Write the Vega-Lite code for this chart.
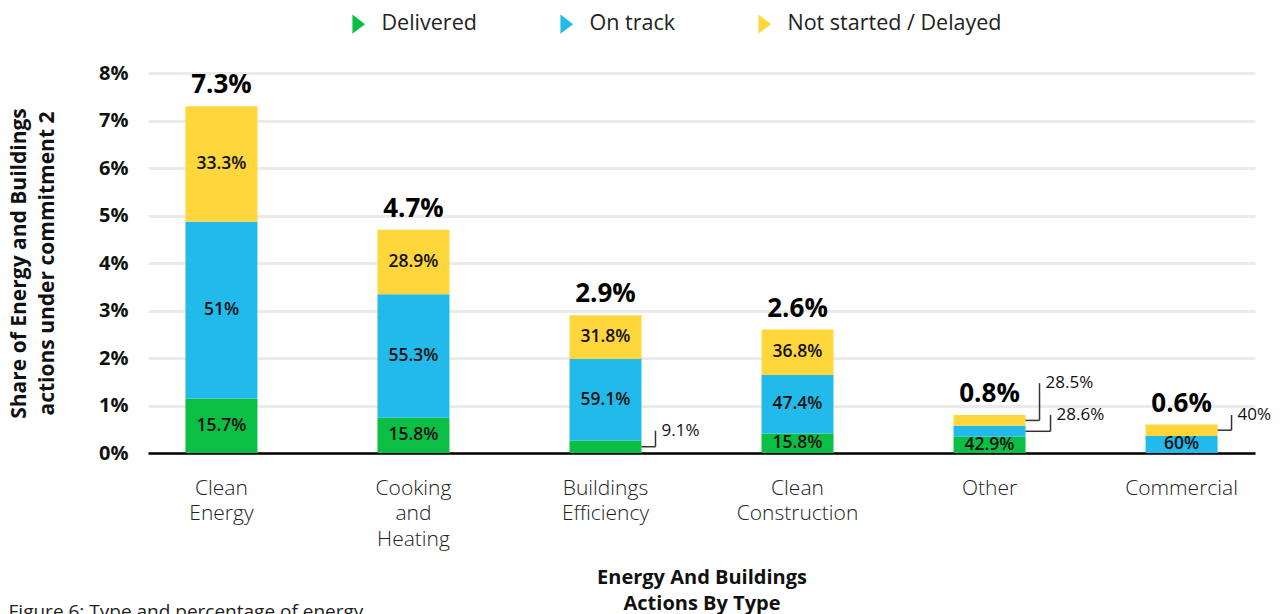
{
  "$schema": "https://vega.github.io/schema/vega-lite/v6.json",
  "width": 1107,
  "height": 380,
  "autosize": {"type": "none"},
  "padding": {"left": 148, "top": 73, "right": 32, "bottom": 161},
  "background": "white",
  "config": {"font": "Open Sans", "view": {"stroke": null}},
  "title": {"text": "Figure 6: Type and percentage of energy", "orient": "bottom", "anchor": "start", "frame": "bounds", "fontSize": 19, "fontWeight": "normal", "color": "#222", "offset": -10},
  "datasets": {
    "shares": [
      {"category": "Clean Energy", "status": "Delivered", "seq": 1, "value": 1.146, "label": "15.7%", "inside": true},
      {"category": "Clean Energy", "status": "On track", "seq": 2, "value": 3.723, "label": "51%", "inside": true},
      {"category": "Clean Energy", "status": "Not started / Delayed", "seq": 3, "value": 2.431, "label": "33.3%", "inside": true},
      {"category": "Cooking and Heating", "status": "Delivered", "seq": 1, "value": 0.743, "label": "15.8%", "inside": true},
      {"category": "Cooking and Heating", "status": "On track", "seq": 2, "value": 2.599, "label": "55.3%", "inside": true},
      {"category": "Cooking and Heating", "status": "Not started / Delayed", "seq": 3, "value": 1.358, "label": "28.9%", "inside": true},
      {"category": "Buildings Efficiency", "status": "Delivered", "seq": 1, "value": 0.264, "label": "9.1%", "inside": false},
      {"category": "Buildings Efficiency", "status": "On track", "seq": 2, "value": 1.714, "label": "59.1%", "inside": true},
      {"category": "Buildings Efficiency", "status": "Not started / Delayed", "seq": 3, "value": 0.922, "label": "31.8%", "inside": true},
      {"category": "Clean Construction", "status": "Delivered", "seq": 1, "value": 0.411, "label": "15.8%", "inside": true},
      {"category": "Clean Construction", "status": "On track", "seq": 2, "value": 1.232, "label": "47.4%", "inside": true},
      {"category": "Clean Construction", "status": "Not started / Delayed", "seq": 3, "value": 0.957, "label": "36.8%", "inside": true},
      {"category": "Other", "status": "Delivered", "seq": 1, "value": 0.343, "label": "42.9%", "inside": true},
      {"category": "Other", "status": "On track", "seq": 2, "value": 0.229, "label": "28.6%", "inside": false},
      {"category": "Other", "status": "Not started / Delayed", "seq": 3, "value": 0.228, "label": "28.5%", "inside": false},
      {"category": "Commercial", "status": "On track", "seq": 2, "value": 0.36, "label": "60%", "inside": true},
      {"category": "Commercial", "status": "Not started / Delayed", "seq": 3, "value": 0.24, "label": "40%", "inside": false}
    ],
    "totals": [
      {"category": "Clean Energy", "total": 7.3, "label": "7.3%"},
      {"category": "Cooking and Heating", "total": 4.7, "label": "4.7%"},
      {"category": "Buildings Efficiency", "total": 2.9, "label": "2.9%"},
      {"category": "Clean Construction", "total": 2.6, "label": "2.6%"},
      {"category": "Other", "total": 0.8, "label": "0.8%"},
      {"category": "Commercial", "total": 0.6, "label": "0.6%"}
    ],
    "callouts": [
      {"category": "Buildings Efficiency", "label": "9.1%", "from": 0.132, "to": 0.47, "knee": "near"},
      {"category": "Other", "label": "28.5%", "from": 0.686, "to": 1.47, "knee": "near"},
      {"category": "Other", "label": "28.6%", "from": 0.457, "to": 0.8, "knee": "far"},
      {"category": "Commercial", "label": "40%", "from": 0.48, "to": 0.8, "knee": "near"}
    ]
  },
  "layer": [
    {
      "data": {"name": "shares"},
      "transform": [
        {"stack": "value", "groupby": ["category"], "sort": [{"field": "seq", "order": "ascending"}], "as": ["y0", "y1"]}
      ],
      "layer": [
        {
          "mark": {"type": "bar"},
          "encoding": {
            "x": {
              "field": "category", "type": "nominal",
              "scale": {"domain": ["Clean Energy", "Cooking and Heating", "Buildings Efficiency", "Clean Construction", "Other", "Commercial"], "paddingInner": 0.625, "paddingOuter": 0.195},
              "axis": {
                "title": ["Energy And Buildings", "Actions By Type"],
                "titleFontSize": 20, "titleFontWeight": "bold", "titleColor": "#111", "titleLineHeight": 26, "titlePadding": 18,
                "labelExpr": "split(datum.label, ' ')", "labelFontSize": 21, "labelFontWeight": 300, "labelColor": "#222", "labelLineHeight": 25.5, "labelPadding": 24, "labelAngle": 0,
                "ticks": false, "domainColor": "#000", "domainWidth": 2.5, "grid": false
              }
            },
            "y": {
              "field": "y1", "type": "quantitative",
              "scale": {"domain": [0, 8]},
              "axis": {
                "title": ["Share of Energy and Buildings", "actions under commitment 2"],
                "titleFontSize": 21, "titleFontWeight": "bold", "titleColor": "#111", "titleLineHeight": 28, "titlePadding": 41,
                "values": [0, 1, 2, 3, 4, 5, 6, 7, 8], "labelExpr": "datum.value + '%'",
                "labelFontSize": 20, "labelFontWeight": "bold", "labelColor": "#111", "labelPadding": 20,
                "ticks": false, "domain": false, "grid": true, "gridColor": "#EBEBEB", "gridWidth": 3
              }
            },
            "y2": {"field": "y0"},
            "color": {
              "field": "status", "type": "nominal",
              "scale": {"domain": ["Delivered", "On track", "Not started / Delayed"], "range": ["#0BBF45", "#22BAEB", "#FFD63B"]},
              "legend": {
                "title": null, "orient": "none", "direction": "horizontal", "legendX": 200, "legendY": -60,
                "symbolType": "M-0.65,-1L0.65,0L-0.65,1Z", "symbolSize": 380, "symbolStrokeWidth": 0, "symbolOpacity": 1,
                "labelFontSize": 21.5, "labelColor": "#222", "labelOffset": 12, "labelLimit": 0, "columnPadding": 79
              }
            }
          }
        },
        {
          "transform": [
            {"filter": {"field": "inside", "equal": true}},
            {"fold": ["y0", "y1"], "as": ["k", "v"]}
          ],
          "mark": {"type": "text", "fontSize": 17.5, "fontWeight": 600, "color": "#111", "baseline": "middle"},
          "encoding": {
            "x": {"field": "category", "type": "nominal", "scale": {"domain": ["Clean Energy", "Cooking and Heating", "Buildings Efficiency", "Clean Construction", "Other", "Commercial"]}},
            "y": {"field": "v", "aggregate": "mean", "type": "quantitative", "scale": {"domain": [0, 8]}},
            "text": {"field": "label", "type": "nominal"},
            "detail": {"field": "status", "type": "nominal"}
          }
        }
      ]
    },
    {
      "data": {"name": "totals"},
      "mark": {"type": "text", "fontSize": 26, "fontWeight": "bold", "color": "#000", "baseline": "alphabetic", "dy": -13},
      "encoding": {
        "x": {"field": "category", "type": "nominal", "scale": {"domain": ["Clean Energy", "Cooking and Heating", "Buildings Efficiency", "Clean Construction", "Other", "Commercial"]}},
        "y": {"field": "total", "type": "quantitative", "scale": {"domain": [0, 8]}},
        "text": {"field": "label", "type": "nominal"}
      }
    },
    {
      "data": {"name": "callouts"},
      "layer": [
        {
          "transform": [{"filter": {"field": "knee", "equal": "near"}}],
          "mark": {"type": "rule", "color": "#333", "strokeWidth": 1.5, "xOffset": 36, "x2Offset": 50},
          "encoding": {
            "x": {"field": "category", "type": "nominal", "scale": {"domain": ["Clean Energy", "Cooking and Heating", "Buildings Efficiency", "Clean Construction", "Other", "Commercial"]}},
            "x2": {"field": "category"},
            "y": {"field": "from", "type": "quantitative", "scale": {"domain": [0, 8]}}
          }
        },
        {
          "transform": [{"filter": {"field": "knee", "equal": "near"}}],
          "mark": {"type": "rule", "color": "#333", "strokeWidth": 1.5, "xOffset": 50},
          "encoding": {
            "x": {"field": "category", "type": "nominal", "scale": {"domain": ["Clean Energy", "Cooking and Heating", "Buildings Efficiency", "Clean Construction", "Other", "Commercial"]}},
            "y": {"field": "from", "type": "quantitative", "scale": {"domain": [0, 8]}},
            "y2": {"field": "to"}
          }
        },
        {
          "transform": [{"filter": {"field": "knee", "equal": "near"}}],
          "mark": {"type": "text", "fontSize": 17, "color": "#111", "align": "left", "baseline": "middle", "dx": 56},
          "encoding": {
            "x": {"field": "category", "type": "nominal", "scale": {"domain": ["Clean Energy", "Cooking and Heating", "Buildings Efficiency", "Clean Construction", "Other", "Commercial"]}},
            "y": {"field": "to", "type": "quantitative", "scale": {"domain": [0, 8]}},
            "text": {"field": "label", "type": "nominal"}
          }
        },
        {
          "transform": [{"filter": {"field": "knee", "equal": "far"}}],
          "mark": {"type": "rule", "color": "#333", "strokeWidth": 1.5, "xOffset": 36, "x2Offset": 61},
          "encoding": {
            "x": {"field": "category", "type": "nominal", "scale": {"domain": ["Clean Energy", "Cooking and Heating", "Buildings Efficiency", "Clean Construction", "Other", "Commercial"]}},
            "x2": {"field": "category"},
            "y": {"field": "from", "type": "quantitative", "scale": {"domain": [0, 8]}}
          }
        },
        {
          "transform": [{"filter": {"field": "knee", "equal": "far"}}],
          "mark": {"type": "rule", "color": "#333", "strokeWidth": 1.5, "xOffset": 61},
          "encoding": {
            "x": {"field": "category", "type": "nominal", "scale": {"domain": ["Clean Energy", "Cooking and Heating", "Buildings Efficiency", "Clean Construction", "Other", "Commercial"]}},
            "y": {"field": "from", "type": "quantitative", "scale": {"domain": [0, 8]}},
            "y2": {"field": "to"}
          }
        },
        {
          "transform": [{"filter": {"field": "knee", "equal": "far"}}],
          "mark": {"type": "text", "fontSize": 17, "color": "#111", "align": "left", "baseline": "middle", "dx": 67},
          "encoding": {
            "x": {"field": "category", "type": "nominal", "scale": {"domain": ["Clean Energy", "Cooking and Heating", "Buildings Efficiency", "Clean Construction", "Other", "Commercial"]}},
            "y": {"field": "to", "type": "quantitative", "scale": {"domain": [0, 8]}},
            "text": {"field": "label", "type": "nominal"}
          }
        }
      ]
    }
  ]
}
